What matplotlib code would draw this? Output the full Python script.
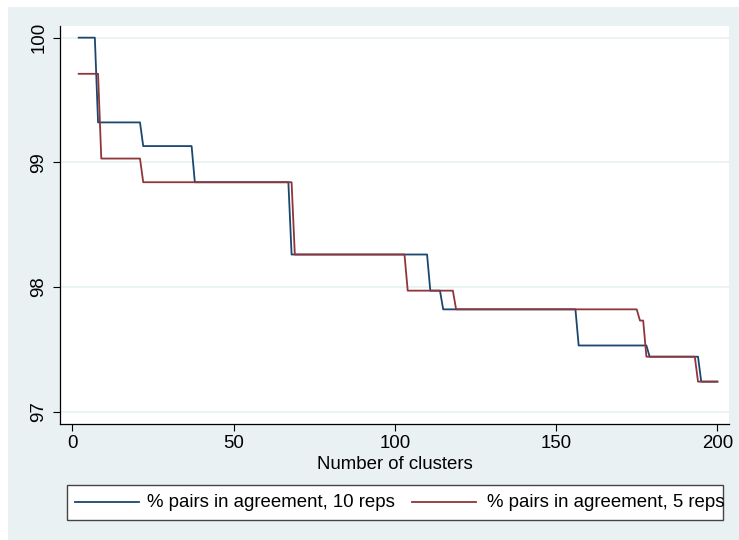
import matplotlib
matplotlib.use("Agg")
import matplotlib.pyplot as plt
from matplotlib.patches import Rectangle
from matplotlib.lines import Line2D

# ---- data (vertices of the plotted polylines) ----
x_10reps = [2, 7, 8, 21, 22, 37, 38, 67, 68, 110, 111, 114, 115, 156, 157, 178, 179, 194, 195, 200]
y_10reps = [100.0, 100.0, 99.32, 99.32, 99.13, 99.13, 98.84, 98.84, 98.26, 98.26, 97.97, 97.97,
            97.82, 97.82, 97.53, 97.53, 97.44, 97.44, 97.24, 97.24]

x_5reps = [2, 8, 9, 21, 22, 68, 69, 103, 104, 118, 119, 175, 176, 177, 178, 193, 194, 200]
y_5reps = [99.71, 99.71, 99.03, 99.03, 98.84, 98.84, 98.26, 98.26, 97.97, 97.97, 97.82, 97.82,
           97.73, 97.73, 97.44, 97.44, 97.24, 97.24]

series_labels = ["% pairs in agreement, 10 reps", "% pairs in agreement, 5 reps"]
x_ticks = [0, 50, 100, 150, 200]
y_ticks = [97, 98, 99, 100]
x_title = "Number of clusters"

BLUE = "#1a476f"
RED = "#90353b"
BG = "#e9f1f3"

plt.rcParams['font.family'] = ['Liberation Sans', 'DejaVu Sans']
FS = 13.4

W, H = 739, 540
fig = plt.figure(figsize=(W / 100, H / 100), dpi=100)
fig.patch.set_facecolor("white")

# graph region background
bg = Rectangle((8 / W, 0), 1 - 8 / W, 1 - 7 / H, transform=fig.transFigure,
               facecolor=BG, edgecolor="none", zorder=-5)
fig.add_artist(bg)

l, r, t, b = 60, 729.3, 25.7, 424
ax = fig.add_axes([l / W, 1 - b / H, (r - l) / W, (b - t) / H])
ax.set_zorder(1)
ax.set_facecolor("white")

ax.plot(x_10reps, y_10reps, color=BLUE, lw=1.3, zorder=3)
ax.plot(x_5reps, y_5reps, color=RED, lw=1.3, zorder=3)

ax.set_xlim(-3.8, 203.7)
ax.set_ylim(96.90, 100.096)
ax.set_xticks(x_ticks)
ax.set_yticks(y_ticks)
ax.set_yticklabels([str(v) for v in y_ticks], rotation=90, va="center")
ax.tick_params(axis="both", direction="out", length=5, width=0.8, labelsize=FS, colors="black")
ax.tick_params(axis="y", pad=4)
ax.tick_params(axis="x", pad=3)
ax.grid(axis="y", color=BG, lw=1.2, zorder=1)
ax.set_axisbelow(True)
for s in ["top", "right"]:
    ax.spines[s].set_visible(False)
for s in ["left", "bottom"]:
    ax.spines[s].set_linewidth(0.9)
ax.set_xlabel(x_title, fontsize=FS, labelpad=3)

# legend (drawn manually, as in the reference the text overruns the box)
lx0, lx1, ly0, ly1 = 66.7, 722.5, 484.5, 519.5
fig.add_artist(Rectangle((lx0 / W, 1 - ly1 / H), (lx1 - lx0) / W, (ly1 - ly0) / H,
                         transform=fig.transFigure, facecolor="white", edgecolor="#444444",
                         lw=1.0, zorder=2))
ym = 1 - 502.3 / H
fig.add_artist(Line2D([75 / W, 139.3 / W], [ym, ym], transform=fig.transFigure, color=BLUE, lw=1.3, zorder=3))
fig.add_artist(Line2D([411.7 / W, 476 / W], [ym, ym], transform=fig.transFigure, color=RED, lw=1.3, zorder=3))
fig.text(147 / W, ym, series_labels[0], fontsize=FS, va="center", ha="left", zorder=4)
fig.text(486.7 / W, ym, series_labels[1], fontsize=FS, va="center", ha="left", zorder=4)

fig.savefig("out.png", dpi=100, facecolor=fig.get_facecolor())
